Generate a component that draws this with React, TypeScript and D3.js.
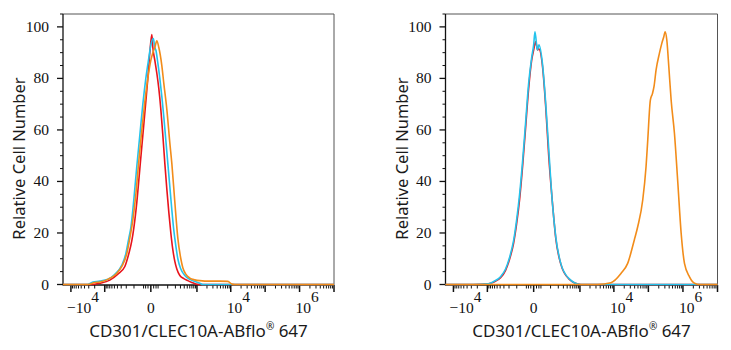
import React from 'react';
import * as d3 from 'd3';

type Pt = [number, number];

const yTickValues = [0, 20, 40, 60, 80, 100];
const yMinorValues = [5, 10, 15, 25, 30, 35, 45, 50, 55, 65, 70, 75, 85, 90, 95, 105];
const xDomain: [number, number] = [-17000, 1e7];
const xLabelTicks = [
  { v: -1e4, base: '−10', exp: '4' },
  { v: 0, base: '0', exp: '' },
  { v: 1e4, base: '10', exp: '4' },
  { v: 1e6, base: '10', exp: '6' },
];
const seriesColors = { red: '#e8141c', cyan: '#25c3ec', orange: '#f28c1a' };
const xTitle = 'CD301/CLEC10A-ABflo';
const xTitleTail = ' 647';
const yTitle = 'Relative Cell Number';

const leftRed: Pt[] = [[-17000,0],[-2780,0],[-1404,0.5],[-696,1.7],[-388,4],[-225,7],[-161,12],[-123,17],[-101.5,22],[-74.4,32],[-52.1,45],[-33.9,58],[-19.1,71],[-10.7,80],[-3.3,90],[3.3,97],[6.9,92],[14.7,87],[23.7,82],[33.9,76],[45.7,68],[59.1,58],[74.4,47],[91.9,37],[111.9,28],[134.8,20],[160.9,13.5],[190.8,9],[224.9,6],[285.5,3.5],[387.8,2.3],[521.4,1.5],[695.9,0.8],[923.9,0.2],[1222,0],[1e7,0]];
const leftCyan: Pt[] = [[-17000,0],[-3187,0],[-2270,1.0],[-1404,1.3],[-802,2],[-484.5,4],[-285.5,7.5],[-207,12],[-161,18],[-135,22],[-101.5,33],[-74.4,46],[-52.1,58],[-33.9,70],[-19.1,80],[-6.9,88],[0,93],[8.7,95.5],[14.7,92],[19.1,91],[28.6,86],[39.6,80],[52.1,73],[66.5,65],[82.8,56],[101.5,47],[122.9,38],[147.4,29],[175.3,21],[207.3,15],[243.8,10],[308.6,6],[417.9,3.5],[602.8,2],[861.1,1.2],[1222,0.5],[1504,0],[1e7,0]];
const leftOrange: Pt[] = [[-17000,0],[-3187,0],[-1980,0.8],[-1404,1],[-802,2],[-450,4],[-285.5,7],[-190.8,12],[-147.4,18],[-111.9,25],[-82.8,35],[-59.1,48],[-39.6,60],[-23.7,71],[-10.7,80],[0,87],[6.9,90],[14.7,92],[23.7,94.6],[33.9,92],[52.1,85],[66.5,78],[91.9,68],[122.9,55],[147.4,47],[190.8,32],[243.8,18],[308.6,10],[359.6,6.5],[450.1,4],[602.8,2.5],[861.1,1.8],[1222,1.5],[2430,1.3],[4786,1.3],[8200,1.2],[10730,0.2],[13130,0],[1e7,0]];

const rightRed: Pt[] = [[-17000,0],[-2602,0],[-924,0.3],[-648,0.9],[-388,2.6],[-264,5.5],[-190.8,9.8],[-134.8,16],[-101.5,23.5],[-74.4,33],[-52.1,46],[-33.9,61],[-19.1,76],[-6.9,87],[0,91],[6.9,94.3],[14.7,91],[19.1,91.5],[39.6,84],[59.1,69],[82.8,50],[122.9,30.5],[160.9,18],[243.8,8],[450.1,2.2],[1063,0],[1e7,0]];
const rightCyan: Pt[] = [[-17000,0],[-2602,0],[-924,0.3],[-648,1.1],[-388,3],[-264,6],[-190.8,10.5],[-134.8,17],[-101.5,25],[-74.4,35],[-52.1,48],[-33.9,63],[-19.1,78],[-6.9,88],[0,93],[4.4,98.1],[13.5,91],[20.4,93],[37.9,85.9],[59.1,70.3],[85.5,50.9],[119.5,31.5],[160.9,18.6],[243.8,8.2],[450.1,2.4],[1063,0],[1e7,0]];
const rightOrange: Pt[] = [[-17000,0],[3300,0],[8200,0.7],[16060,4.3],[25150,8.2],[39150,17.3],[49100,22.4],[68650,32.8],[85580,45.7],[95850,56],[114100,71.6],[130500,74],[146200,77],[167100,83.3],[208400,89.7],[244700,93.6],[279600,96.2],[305000,98.1],[341600,94.9],[390400,84.5],[455400,71.6],[567800,58.7],[712800,39.3],[888000,19.9],[1107800,8.2],[1547500,3],[2161400,0.5],[3017000,0],[1e7,0]];

const panels = [
  { x0: 63, x1: 334, ylabX: 19, series: [
    { data: leftRed, color: seriesColors.red },
    { data: leftCyan, color: seriesColors.cyan },
    { data: leftOrange, color: seriesColors.orange },
  ] },
  { x0: 445.5, x1: 717.5, ylabX: 402, series: [
    { data: rightRed, color: seriesColors.red },
    { data: rightCyan, color: seriesColors.cyan },
    { data: rightOrange, color: seriesColors.orange },
  ] },
];

const Y0 = 284.5;
const YTOP = 14;
const SERIF = 'Liberation Serif, Times New Roman, DejaVu Serif, serif';
const SANS = 'Noto Sans, Open Sans, sans-serif';

function buildXTicks(): { v: number; major: boolean }[] {
  const out: { v: number; major: boolean }[] = [{ v: 0, major: true }];
  for (const s of [1, -1]) {
    for (const small of [10, 20, 30]) out.push({ v: s * small, major: false });
    for (let n = 2; n <= 7; n++) {
      for (let k = 1; k <= 9; k++) {
        const v = s * k * Math.pow(10, n);
        if (v < xDomain[0] || v > xDomain[1]) continue;
        out.push({ v, major: k === 1 && n >= 3 });
      }
    }
  }
  return out;
}

function Panel({ p }: { p: typeof panels[number] }) {
  const x = d3.scaleSymlog().constant(48).domain(xDomain).range([p.x0, p.x1]);
  const y = d3.scaleLinear().domain([0, 105]).range([Y0, YTOP]);
  const line = d3.line<Pt>().x(d => x(d[0])).y(d => y(d[1])).curve(d3.curveMonotoneX);
  const ticks = buildXTicks();
  const cx = (p.x0 + p.x1) / 2;
  const cy = 158.5;
  return (
    <g>
      <path d={`M${p.x0},${YTOP}H${p.x1}V${Y0 + 0.5}`} fill="none" stroke="#555" strokeWidth={1} />
      <line x1={p.x0} x2={p.x0} y1={YTOP} y2={Y0 + 1} stroke="#111" strokeWidth={1.3} />
      {yTickValues.map(v => (
        <g key={'yt' + v}>
          <line x1={p.x0 - 6} x2={p.x0} y1={y(v)} y2={y(v)} stroke="#111" strokeWidth={1.3} />
          <text x={p.x0 - 14} y={y(v) + 5} textAnchor="end" style={{ fontFamily: SERIF }} fontSize={15.5} fill="#111">{v}</text>
        </g>
      ))}
      {yMinorValues.map(v => (
        <line key={'ym' + v} x1={p.x0 - 3} x2={p.x0} y1={y(v)} y2={y(v)} stroke="#111" strokeWidth={1} />
      ))}
      <line x1={p.x0} x2={p.x1} y1={Y0 + 0.5} y2={Y0 + 0.5} stroke="#111" strokeWidth={1.3} />
      {ticks.map((t, i) => (
        <line key={'xt' + i} x1={x(t.v)} x2={x(t.v)} y1={Y0 + 0.5} y2={Y0 + (t.major ? 7.5 : 4)} stroke="#111" strokeWidth={t.major ? 1.5 : 1} />
      ))}
      {xLabelTicks.map(t => (
        t.exp === '' ? (
          <text key={'xl' + t.v} x={x(t.v)} y={313} textAnchor="middle" style={{ fontFamily: SERIF }} fontSize={15.5} fill="#111">{t.base}</text>
        ) : (
          <text key={'xl' + t.v} x={x(t.v) - 4} y={313} textAnchor="start" style={{ fontFamily: SERIF }} fontSize={15.5} fill="#111">
            {t.base}<tspan dy={-11}>{t.exp}</tspan>
          </text>
        )
      ))}
      {p.series.map((s, i) => (
        <path key={'s' + i} d={line(s.data) || ''} fill="none" stroke={s.color} strokeWidth={1.6} strokeLinejoin="round" />
      ))}
      <text x={cx} y={337} textAnchor="middle" style={{ fontFamily: SANS }} fontSize={17} fill="#1a1a1a">
        {xTitle}<tspan fontSize={10} dy={-7}>®</tspan><tspan dy={7}>{xTitleTail}</tspan>
      </text>
      <text transform={`translate(${p.ylabX + 6},${cy}) rotate(-90)`} textAnchor="middle" style={{ fontFamily: SANS }} fontSize={16.5} fill="#1a1a1a">{yTitle}</text>
    </g>
  );
}

export default function App() {
  return (
    <svg width={731} height={350} style={{ position: 'absolute', left: 0, top: 0, background: '#fff' }}>
      <rect width={731} height={350} fill="#fff" />
      {panels.map((p, i) => <Panel key={i} p={p} />)}
    </svg>
  );
}
